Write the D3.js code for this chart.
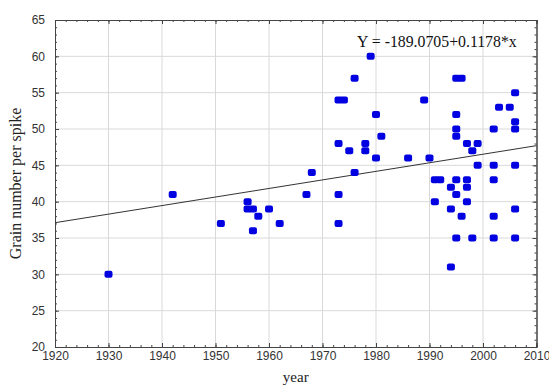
<!DOCTYPE html>
<html lang="en">
	<head>
		<meta charset="UTF-8" />
		<title>Grain number per spike</title>
		<style>
			body { margin: 0; background: #fff; }
			.tick text { font-family: 'Liberation Sans', Arial, sans-serif; font-size: 12px; fill: #333; }
		</style>
	</head>
	<body>
		<svg id="svg" width="549" height="385"></svg>
		<script src="https://d3js.org/d3.v7.min.js"></script>
		<script>
			// values
			const years = [1930, 1942, 1951, 1956, 1956, 1957, 1957, 1958, 1960, 1962,
				1967, 1968, 1973, 1973, 1973, 1973, 1974, 1975, 1976, 1976,
				1978, 1978, 1979, 1980, 1980, 1981, 1986, 1989, 1990, 1991,
				1991, 1992, 1994, 1994, 1994, 1995, 1995, 1995, 1995, 1995,
				1995, 1995, 1996, 1996, 1997, 1997, 1997, 1997, 1998, 1998,
				1999, 1999, 2002, 2002, 2002, 2002, 2002, 2003, 2005, 2006,
				2006, 2006, 2006, 2006, 2006];
			const grains = [30, 41, 37, 40, 39, 39, 36, 38, 39, 37,
				41, 44, 54, 48, 41, 37, 54, 47, 57, 44,
				48, 47, 60, 52, 46, 49, 46, 54, 46, 43,
				40, 43, 42, 39, 31, 57, 52, 50, 49, 43,
				41, 35, 57, 38, 48, 43, 42, 40, 47, 35,
				48, 45, 50, 45, 43, 38, 35, 53, 53, 55,
				51, 50, 45, 39, 35];
			const xTicks = [1920, 1930, 1940, 1950, 1960, 1970, 1980, 1990, 2000, 2010];
			const yTicks = [20, 25, 30, 35, 40, 45, 50, 55, 60, 65];
			const fit = { a: -189.0705, b: 0.1178 };
			const data = years.map((y, i) => ({ year: y, grain: grains[i] }));

			const svg = d3.select('#svg');
			const pLeft = 55, pRight = 536.5, pTop = 20, pBottom = 347;

			const x = d3.scaleLinear().domain([1920, 2010]).range([pLeft, pRight]);
			const y = d3.scaleLinear().domain([20, 65]).range([pBottom, pTop]);

			// grid
			svg.append('g')
				.selectAll('line')
				.data(xTicks.slice(1, -1))
				.enter()
				.append('line')
				.attr('x1', (d) => x(d)).attr('x2', (d) => x(d))
				.attr('y1', pTop).attr('y2', pBottom)
				.attr('stroke', '#d9d9d9');
			svg.append('g')
				.selectAll('line')
				.data(yTicks.slice(1, -1))
				.enter()
				.append('line')
				.attr('x1', pLeft).attr('x2', pRight)
				.attr('y1', (d) => y(d)).attr('y2', (d) => y(d))
				.attr('stroke', '#d9d9d9');

			// minor ticks first, majors with labels on top
			const minorX = d3.range(1920, 2011, 2);
			const minorY = d3.range(20, 66, 1);
			svg.append('g').attr('transform', `translate(0,${pBottom})`)
				.call(d3.axisBottom(x).tickValues(minorX).tickSize(-2).tickFormat(''));
			svg.append('g').attr('transform', `translate(0,${pTop})`)
				.call(d3.axisTop(x).tickValues(minorX).tickSize(-2).tickFormat(''));
			svg.append('g').attr('transform', `translate(${pLeft},0)`)
				.call(d3.axisLeft(y).tickValues(minorY).tickSize(-2).tickFormat(''));
			svg.append('g').attr('transform', `translate(${pRight},0)`)
				.call(d3.axisRight(y).tickValues(minorY).tickSize(-2).tickFormat(''));

			svg.append('g').attr('transform', `translate(0,${pBottom})`)
				.call(d3.axisBottom(x).tickValues(xTicks).tickSize(-4).tickPadding(4).tickFormat(d3.format('d')));
			svg.append('g').attr('transform', `translate(0,${pTop})`)
				.call(d3.axisTop(x).tickValues(xTicks).tickSize(-4).tickFormat(''));
			svg.append('g').attr('transform', `translate(${pLeft},0)`)
				.call(d3.axisLeft(y).tickValues(yTicks).tickSize(-4).tickPadding(10));
			svg.append('g').attr('transform', `translate(${pRight},0)`)
				.call(d3.axisRight(y).tickValues(yTicks).tickSize(-4).tickFormat(''));

			svg.selectAll('.domain').attr('stroke', '#444');
			svg.selectAll('.tick line').attr('stroke', '#444');

			// regression line
			svg.append('line')
				.attr('x1', x(1920)).attr('y1', y(fit.a + fit.b * 1920))
				.attr('x2', x(2010)).attr('y2', y(fit.a + fit.b * 2010))
				.attr('stroke', '#333')
				.attr('stroke-width', 1);

			// points
			svg.append('g')
				.selectAll('rect')
				.data(data)
				.enter()
				.append('rect')
				.attr('x', (d) => x(d.year) - 4)
				.attr('y', (d) => y(d.grain) - 3.5)
				.attr('width', 8)
				.attr('height', 7)
				.attr('rx', 2)
				.attr('fill', '#0000e0');

			// labels
			svg.append('text')
				.attr('x', 357).attr('y', 47)
				.attr('font-family', "'Liberation Serif', 'Times New Roman', serif")
				.attr('font-size', 15.8)
				.attr('fill', '#111')
				.text('Y = -189.0705+0.1178*x');
			svg.append('text')
				.attr('x', (pLeft + pRight) / 2).attr('y', 382)
				.attr('text-anchor', 'middle')
				.attr('font-family', "'Liberation Serif', 'Times New Roman', serif")
				.attr('font-size', 15)
				.attr('fill', '#222')
				.text('year');
			svg.append('text')
				.attr('transform', `translate(21,${(pTop + pBottom) / 2}) rotate(-90)`)
				.attr('text-anchor', 'middle')
				.attr('font-family', "'Liberation Serif', 'Times New Roman', serif")
				.attr('font-size', 16)
				.attr('fill', '#222')
				.text('Grain number per spike');
		</script>
	</body>
</html>
